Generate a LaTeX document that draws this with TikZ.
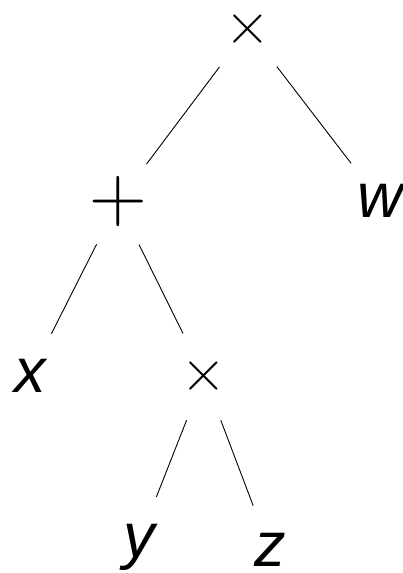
\documentclass[tikz,border=0pt]{standalone}
\usepackage{fontspec}
\setmainfont{Liberation Sans}
\newfontfamily\opfont{Latin Modern Roman}
\usetikzlibrary{positioning}

\begin{document}
\begin{tikzpicture}[
            x = 1pt, y = -1pt, % one unit per pixel, y going down
            on grid, % place nodes by their centres
            line width = 0.9pt % line style
        ]

        \tikzstyle{every node}=[
            circle,
            minimum size = 94pt, % gap between edge and symbol
            inner sep = 0pt
        ]
        \tikzstyle{leaf}=[
            font = \fontsize{63}{63}\selectfont\itshape,
            text height = 33pt, % x-height of the letters
            text depth = 0pt
        ]
        \tikzstyle{times op}=[
            font = \fontsize{62}{62}\opfont
        ]
        \tikzstyle{plus op}=[
            font = \fontsize{80}{80}\opfont
        ]

        \useasboundingbox (0,0) rectangle (403,573);

        \node[times op] (top) at (248,29) {×};
        \node[plus op] (plus) [below left=173pt and 130pt of top] {+};
        \node[leaf] (w) [below right=172pt and 132pt of top] {w};

        \node[leaf] (x) [below left=174pt and 88pt of plus] {x};
        \node[times op] (times) [below right=174pt and 86pt of plus] {×};

        \node[leaf] (y) [below left=165pt and 65pt of times] {y};
        \node[leaf] (z) [below right=174pt and 66pt of times] {z};

        \path (top) edge (plus);
        \path (top) edge (w);
        \path (plus) edge (x);
        \path (plus) edge (times);
        \path (times) edge (y);
        \path (times) edge (z);

    \end{tikzpicture}
\end{document}
